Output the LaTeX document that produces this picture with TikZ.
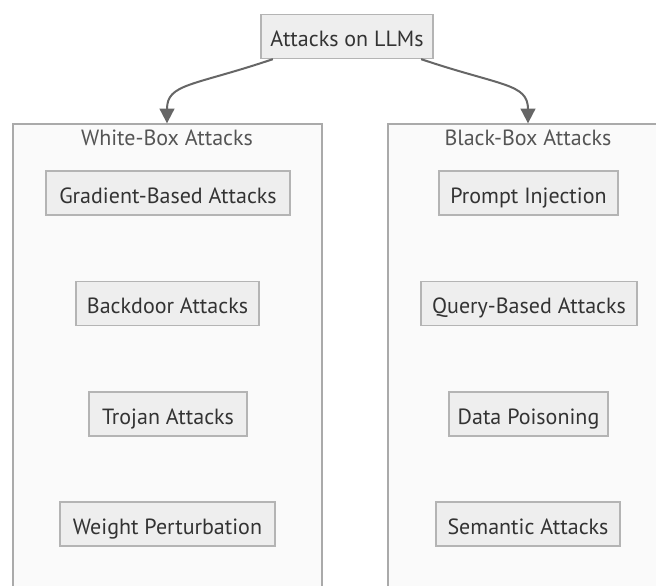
\documentclass[tikz,border=0pt]{standalone}
\usepackage{fontspec}
\setmainfont{PT Sans}
\usetikzlibrary{fit,arrows.meta}
\definecolor{nodefill}{HTML}{EEEEEE}
\definecolor{nodeline}{HTML}{B4B4B4}
\definecolor{clfill}{HTML}{FAFAFA}
\definecolor{clline}{HTML}{AAAAAA}
\definecolor{txt}{HTML}{333333}
\definecolor{cltxt}{HTML}{555555}
\definecolor{arrcol}{HTML}{666666}
\tikzset{
  box/.style={draw=nodeline, line width=1pt, fill=nodefill, text=txt, font=\fontsize{16.5}{18}\selectfont, inner sep=0pt, minimum height=33pt, text height=17pt, text depth=2pt},
  cluster/.style={draw=clline, line width=1pt, fill=clfill, inner sep=0pt},
  cltitle/.style={text=cltxt, font=\fontsize{16.5}{18}\selectfont, inner sep=0pt, anchor=base},
  arr/.style={draw=arrcol, line width=1.5pt, -{Triangle[length=11pt,width=11pt]}},
}
\begin{document}
\begin{tikzpicture}[x=0.75pt,y=-0.75pt]
\useasboundingbox (0,0) rectangle (656,585);
\clip (0,0) rectangle (656,585);
\fill[white] (0,0) rectangle (656,585);
\node[cluster, fit={(13,124) (322,610)}] (wb) {};
\node[cluster, fit={(388,124) (680,610)}] (bb) {};
\node[cltitle] (wbt) at (167,145) {White-Box Attacks};
\node[cltitle] (bbt) at (528,145) {Black-Box Attacks};
\node[box, minimum width=129pt] (top) at (347,36.5) {Attacks on LLMs};
\node[box, minimum width=183pt] (grad) at (168,193) {Gradient-Based Attacks};
\node[box, minimum width=137.25pt] (back) at (167.5,303.5) {Backdoor Attacks};
\node[box, minimum width=118.5pt] (troj) at (168,414) {Trojan Attacks};
\node[box, minimum width=161.25pt] (weight) at (167.5,524) {Weight Perturbation};
\node[box, minimum width=134.25pt] (prompt) at (528.5,193) {Prompt Injection};
\node[box, minimum width=162pt] (query) at (529,303.5) {Query-Based Attacks};
\node[box, minimum width=119.25pt] (data) at (528.5,414) {Data Poisoning};
\node[box, minimum width=138pt] (sem) at (528,524) {Semantic Attacks};
\draw[arr] (top.197) .. controls +(-80,27) and +(0,-40) .. (wb.north -| wbt.north);
\draw[arr] (top.-17) .. controls +(80,27) and +(0,-40) .. (bb.north -| bbt.north);
\end{tikzpicture}
\end{document}
